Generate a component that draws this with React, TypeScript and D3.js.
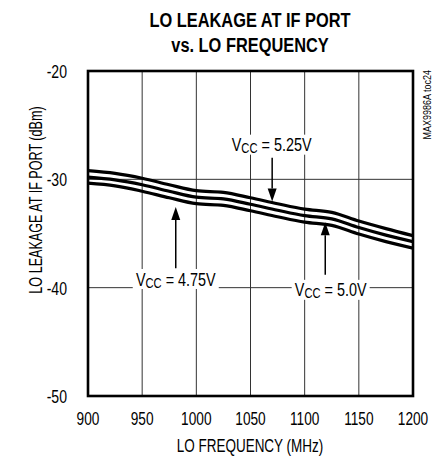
import React from "react";
import * as d3 from "d3";

// LO frequency sample points (MHz)
const FREQ = [900, 925, 950, 975, 1000, 1025, 1050, 1075, 1100, 1125, 1150, 1175, 1200];

// LO leakage at IF port (dBm) for each supply voltage
const LEAK_525 = [-29.2, -29.45, -29.9, -30.5, -31.05, -31.2, -31.7, -32.25, -32.75, -33.05, -33.85, -34.55, -35.2];
const LEAK_500 = [-29.8, -30.05, -30.5, -31.1, -31.65, -31.8, -32.3, -32.85, -33.35, -33.65, -34.45, -35.15, -35.75];
const LEAK_475 = [-30.35, -30.6, -31.1, -31.7, -32.25, -32.4, -32.9, -33.45, -33.95, -34.25, -35.05, -35.75, -36.35];

const X_TICKS = [900, 950, 1000, 1050, 1100, 1150, 1200];
const Y_TICKS = [-20, -30, -40, -50];

const TITLE = ["LO LEAKAGE AT IF PORT", "vs. LO FREQUENCY"];
const X_LABEL = "LO FREQUENCY (MHz)";
const Y_LABEL = "LO LEAKAGE AT IF PORT (dBm)";
const TOC = "MAX9986A toc24";

// Callouts: label position, arrow start/end (MHz, dBm)
const CALLOUTS = [
  { volts: "5.25V", lx: 1069.5, ly: -26.8, ax: 1070, ay0: -28.0, ay1: -32.05 },
  { volts: "4.75V", lx: 981, ly: -39.2, ax: 981, ay0: -38.2, ay1: -32.55 },
  { volts: "5.0V", lx: 1124, ly: -40.2, ax: 1119, ay0: -38.8, ay1: -33.95 },
];

const W = 439;
const H = 456;
const M = { left: 88, right: 413, top: 71, bottom: 396 };
const FONT = "'Liberation Sans', Arial, sans-serif";

// Condensed text: a regular sans squeezed horizontally about its anchor point
function CText({
  x,
  y,
  sx = 0.75,
  rotate = 0,
  children,
  ...rest
}: {
  x: number;
  y: number;
  sx?: number;
  rotate?: number;
  children: React.ReactNode;
  [k: string]: any;
}) {
  return (
    <g transform={`translate(${x},${y}) rotate(${rotate}) scale(${sx},1)`}>
      <text x={0} y={0} fill="#000" {...rest}>
        {children}
      </text>
    </g>
  );
}

export default function App() {
  const x = d3.scaleLinear().domain([900, 1200]).range([M.left, M.right]);
  const y = d3.scaleLinear().domain([-50, -20]).range([M.bottom, M.top]);

  const line = d3
    .line<number>()
    .x((_, i) => x(FREQ[i]))
    .y((d) => y(d))
    .curve(d3.curveCatmullRom.alpha(0.5));

  const series = [LEAK_525, LEAK_500, LEAK_475];

  return (
    <svg
      width={W}
      height={H}
      style={{ position: "absolute", left: 0, top: 0, background: "#fff" }}
      fontFamily={FONT}
    >
      <rect width={W} height={H} fill="#fff" />
      {/* title */}
      {TITLE.map((t, i) => (
        <CText key={t} x={250} y={27 + i * 25} sx={0.78} textAnchor="middle" fontWeight="bold" fontSize={21}>
          {t}
        </CText>
      ))}

      <defs>
        <clipPath id="plot">
          <rect x={M.left} y={M.top} width={M.right - M.left} height={M.bottom - M.top} />
        </clipPath>
      </defs>

      {/* grid */}
      {X_TICKS.map((v) => (
        <line key={"gx" + v} x1={x(v)} x2={x(v)} y1={y(-20)} y2={y(-50)} stroke="#333" strokeWidth={1} />
      ))}
      {Y_TICKS.map((v) => (
        <line key={"gy" + v} x1={x(900)} x2={x(1200)} y1={y(v)} y2={y(v)} stroke="#333" strokeWidth={1} />
      ))}

      {/* curves */}
      <g clipPath="url(#plot)">
        {series.map((s, i) => (
          <path key={i} d={line(s) || ""} fill="none" stroke="#000" strokeWidth={3.2} />
        ))}
      </g>

      {/* callouts */}
      {CALLOUTS.map((c) => {
        const ax = x(c.ax);
        const y0 = y(c.ay0);
        const y1 = y(c.ay1);
        const dir = y1 > y0 ? 1 : -1;
        const head = 13;
        const hw = 4.5;
        const cx = x(c.lx);
        const cy = y(c.ly);
        const tw = c.volts.length > 4 ? 86 : 78;
        return (
          <g key={c.volts}>
            <line x1={ax} x2={ax} y1={y0} y2={y1 - dir * head} stroke="#000" strokeWidth={1.5} />
            <path
              d={`M${ax},${y1} L${ax - hw},${y1 - dir * head} L${ax + hw},${y1 - dir * head} Z`}
              fill="#000"
            />
            <rect x={cx - tw / 2} y={cy - 10} width={tw} height={20} fill="#fff" />
            <CText x={cx} y={cy + 6.5} sx={0.8} textAnchor="middle" fontSize={18}>
              V
              <tspan fontSize={14} dy={2}>
                CC
              </tspan>
              <tspan dy={-2}>{" = " + c.volts}</tspan>
            </CText>
          </g>
        );
      })}

      {/* frame */}
      <rect
        x={M.left}
        y={M.top}
        width={M.right - M.left}
        height={M.bottom - M.top}
        fill="none"
        stroke="#000"
        strokeWidth={2.6}
      />

      {/* y ticks */}
      {Y_TICKS.map((v) => (
        <CText key={"ty" + v} x={67} y={y(v) + 7} sx={0.74} textAnchor="end" fontSize={19}>
          {v}
        </CText>
      ))}
      {/* x ticks */}
      {X_TICKS.map((v) => (
        <CText key={"tx" + v} x={x(v)} y={425} sx={0.72} textAnchor="middle" fontSize={19}>
          {v}
        </CText>
      ))}

      <CText x={250} y={452} sx={0.75} textAnchor="middle" fontSize={18}>
        {X_LABEL}
      </CText>
      <CText x={42} y={200} rotate={-90} sx={0.72} textAnchor="middle" fontSize={17.5}>
        {Y_LABEL}
      </CText>
      <CText x={431} y={70} rotate={-90} sx={0.9} textAnchor="end" fontSize={10}>
        {TOC}
      </CText>
    </svg>
  );
}
